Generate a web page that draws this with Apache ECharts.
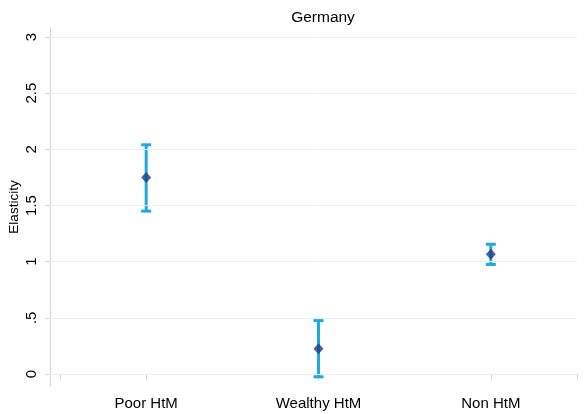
<!DOCTYPE html>
<html>
<head>
<meta charset="utf-8">
<script src="https://cdn.jsdelivr.net/npm/echarts@6/dist/echarts.min.js"></script>
<style>html,body{margin:0;padding:0;background:#fff}#c{width:585px;height:414px}</style>
</head>
<body>
<div id="c"></div>
<script>
var categories = ['Poor HtM', 'Wealthy HtM', 'Non HtM'];
var categoryPos = [1, 2, 3];
var estimates = [1.75, 0.225, 1.065];
var ciLow = [1.45, -0.025, 0.975];
var ciHigh = [2.04, 0.475, 1.155];
var yTicks = [0, 0.5, 1, 1.5, 2, 2.5, 3];
var yTickLabels = ['0', '.5', '1', '1.5', '2', '2.5', '3'];
var xTicks = [0.5, 1, 2, 3, 3.5];

var chart = echarts.init(document.getElementById('c'), null, {renderer: 'canvas'});
var ciData = categoryPos.map(function (x, i) { return [x, ciLow[i], ciHigh[i]]; });
var ptData = categoryPos.map(function (x, i) { return [x, estimates[i]]; });

chart.setOption({
  animation: false,
  title: {
    text: 'Germany', left: 318, top: 5, textAlign: 'center',
    textStyle: {fontFamily: 'Liberation Sans', fontSize: 15.5, fontWeight: 'normal', color: '#000'}
  },
  grid: {left: 50, right: 8, top: 28, bottom: 28, outerBoundsMode: 'none', containLabel: false},
  xAxis: {
    type: 'value', min: 0.4419, max: 3.5,
    axisLine: {show: true, lineStyle: {color: '#d4d4d4', width: 1}},
    axisTick: {show: true, customValues: xTicks, length: 6, lineStyle: {color: '#d4d4d4'}},
    axisLabel: {
      customValues: categoryPos, margin: 10,
      formatter: function (v) { var i = categoryPos.indexOf(v); return i >= 0 ? categories[i] : ''; },
      fontFamily: 'Liberation Sans', fontSize: 15, color: '#000'
    },
    splitLine: {show: false}
  },
  yAxis: {
    type: 'value', min: -0.107, max: 3.08,
    name: 'Elasticity', nameLocation: 'middle', nameRotate: 90, nameGap: 29, nameMoveOverlap: false,
    nameTextStyle: {fontFamily: 'Liberation Sans', fontSize: 13.5, color: '#000'},
    axisLine: {show: true, lineStyle: {color: '#d4d4d4', width: 1}},
    axisTick: {show: true, customValues: yTicks, length: 5, lineStyle: {color: '#d4d4d4'}},
    axisLabel: {
      customValues: yTicks, rotate: 90, margin: 11,
      formatter: function (v) { var i = yTicks.indexOf(v); return i >= 0 ? yTickLabels[i] : ''; },
      fontFamily: 'Liberation Sans', fontSize: 15, color: '#000'
    },
    splitLine: {show: false}
  },
  series: [
    {
      type: 'line', data: [], silent: true,
      markLine: {
        silent: true, symbol: ['none', 'none'], label: {show: false},
        lineStyle: {color: '#e6eff4', width: 1, type: 'solid'},
        data: yTicks.map(function (t) { return {yAxis: t}; })
      }
    },
    {
      type: 'custom', data: ciData, z: 3,
      renderItem: function (params, api) {
        var x = api.value(0);
        var lo = api.coord([x, api.value(1)]);
        var hi = api.coord([x, api.value(2)]);
        var w = 5;
        var st = {stroke: '#1fa9e1', lineWidth: 3, fill: null};
        return {type: 'group', children: [
          {type: 'line', shape: {x1: lo[0], y1: lo[1], x2: hi[0], y2: hi[1]}, style: st},
          {type: 'line', shape: {x1: lo[0] - w, y1: lo[1], x2: lo[0] + w, y2: lo[1]}, style: st},
          {type: 'line', shape: {x1: hi[0] - w, y1: hi[1], x2: hi[0] + w, y2: hi[1]}, style: st}
        ]};
      }
    },
    {
      type: 'scatter', data: ptData, z: 5,
      symbol: 'diamond', symbolSize: [10, 11],
      itemStyle: {color: '#1f3a8a'}
    }
  ]
});
</script>
</body>
</html>
